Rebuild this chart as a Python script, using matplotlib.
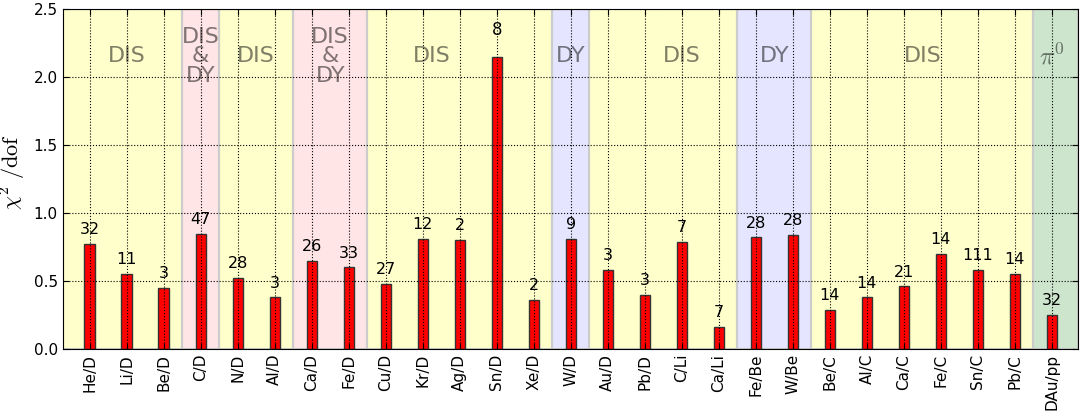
import matplotlib
matplotlib.use("Agg")
import matplotlib.pyplot as plt
import numpy as np

# ratios and fit quality
ratios = ["He/D", "Li/D", "Be/D", "C/D", "N/D", "Al/D", "Ca/D", "Fe/D", "Cu/D",
          "Kr/D", "Ag/D", "Sn/D", "Xe/D", "W/D", "Au/D", "Pb/D", "C/Li", "Ca/Li",
          "Fe/Be", "W/Be", "Be/C", "Al/C", "Ca/C", "Fe/C", "Sn/C", "Pb/C", "DAu/pp"]
chi2_dof = [0.77, 0.55, 0.45, 0.845, 0.52, 0.38, 0.645, 0.60, 0.48,
            0.81, 0.80, 2.147, 0.36, 0.81, 0.58, 0.40, 0.79, 0.16,
            0.82, 0.84, 0.29, 0.38, 0.46, 0.70, 0.58, 0.55, 0.25]
n_points = [32, 11, 3, 47, 28, 3, 26, 33, 27,
            12, 2, 8, 2, 9, 3, 3, 7, 7,
            28, 28, 14, 14, 21, 14, 111, 14, 32]

# process bands: (first index, last index, kind)
bands = [(0, 2, "DIS"), (3, 3, "DIS+DY"), (4, 5, "DIS"), (6, 7, "DIS+DY"),
         (8, 12, "DIS"), (13, 13, "DY"), (14, 17, "DIS"), (18, 19, "DY"),
         (20, 25, "DIS"), (26, 26, "pi0")]
band_label_x = [1, 3, 4.5, 6.5, 9.25, 13, 16, 18.5, 22.5, 26]

band_colors = {"DIS": (1.0, 1.0, 0.0, 0.2), "DIS+DY": (1.0, 0.0, 0.0, 0.1),
               "DY": (0.0, 0.0, 1.0, 0.1), "pi0": (0.0, 0.5, 0.0, 0.2)}
band_texts = {"DIS": "DIS", "DIS+DY": "DIS\n&\nDY", "DY": "DY", "pi0": r"$\pi^0$"}

plt.rcParams["mathtext.fontset"] = "cm"

fig = plt.figure(figsize=(10.8, 4.19), dpi=100)
ax = fig.add_axes([0.058, 0.167, 0.94, 0.812])

x = np.arange(len(ratios))
xmin, xmax = -0.73, len(ratios) - 0.3

for (i0, i1, kind), lx in zip(bands, band_label_x):
    lo = xmin if i0 == 0 else i0 - 0.5
    hi = xmax if i1 == len(ratios) - 1 else i1 + 0.5
    ax.axvspan(lo, hi, facecolor=band_colors[kind], edgecolor="0.8", lw=1.5, zorder=0)
    fs = 18 if kind == "pi0" else 16
    ax.text(lx, 2.15, band_texts[kind], ha="center", va="center", fontsize=fs,
            color="k", alpha=0.5, linespacing=0.95, zorder=1)

ax.bar(x, chi2_dof, width=0.28, color="red", edgecolor="#333333", lw=1, zorder=2)

for xi, v, n in zip(x, chi2_dof, n_points):
    if v > 2:
        ax.text(xi, v + 0.13, str(n), ha="center", va="bottom", fontsize=12, zorder=3)
    else:
        ax.text(xi, v + 0.05, str(n), ha="center", va="bottom", fontsize=11.5, zorder=3)

ax.set_xlim(xmin, xmax)
ax.set_ylim(0, 2.5)
ax.set_xticks(x)
ax.set_xticklabels(ratios, rotation=90, fontsize=11)
ax.set_yticks(np.arange(0, 2.51, 0.5))
ax.set_yticklabels(["%.1f" % t for t in np.arange(0, 2.51, 0.5)], fontsize=11)
ax.tick_params(direction="in", top=True, right=True, length=4)
ax.set_axisbelow(False)
ax.grid(True, linestyle=":", color="k", lw=0.8)
ax.set_ylabel(r"$\chi^2\ /\mathrm{dof}$", fontsize=16)
ax.yaxis.set_label_coords(-0.034, 0.52)

fig.savefig("out.png", dpi=100)
